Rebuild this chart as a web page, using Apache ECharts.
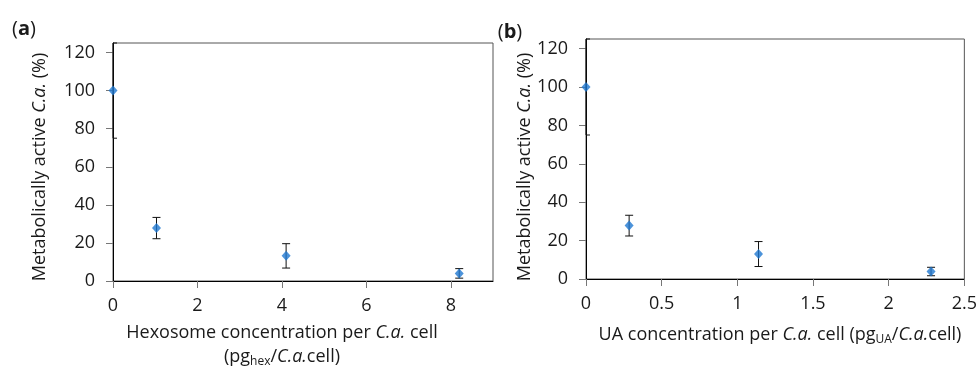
<!DOCTYPE html>
<html>
<head>
<meta charset="utf-8">
<script src="https://cdn.jsdelivr.net/npm/echarts@6/dist/echarts.min.js"></script>
<style>
  html, body { margin: 0; padding: 0; background: #fff; }
  #chart { width: 980px; height: 369px; }
</style>
</head>
<body>
<div id="chart"></div>
<script>
// panel (a): hexosome dose
const hexConc = [0, 1.03, 4.1, 8.2]
const hexActive = [100, 27.8, 13.2, 4.0]
const hexErr = [25, 5.6, 6.4, 2.5]

// panel (b): UA dose
const uaConc = [0, 0.285, 1.14, 2.28]
const uaActive = [100, 27.8, 13.0, 3.9]
const uaErr = [25, 5.4, 6.5, 2.2]

const yTicks = [0, 20, 40, 60, 80, 100, 120]
const xTicksA = [0, 2, 4, 6, 8]
const xTicksB = [0, 0.5, 1, 1.5, 2, 2.5]

const FONT = '"Open Sans", sans-serif'
const BLUE = '#1f78d1'
const INK = '#1a1a1a'

const chart = echarts.init(document.getElementById('chart'))

const axisBase = {
  type: 'value',
  splitLine: { show: false },
  axisLine: { show: true, lineStyle: { color: '#000', width: 1 } },
  axisTick: { show: true, length: 7, lineStyle: { color: '#777' } },
  axisLabel: { color: INK, fontSize: 18, fontFamily: FONT },
}

function xAxis(idx, max, ticks) {
  return {
    ...axisBase,
    gridIndex: idx,
    min: 0,
    max: max,
    axisTick: { ...axisBase.axisTick, customValues: ticks },
    axisLabel: { ...axisBase.axisLabel, margin: 16, customValues: ticks },
  }
}

function yAxis(idx) {
  return {
    ...axisBase,
    gridIndex: idx,
    min: 0,
    max: 125,
    axisTick: { ...axisBase.axisTick, customValues: yTicks },
    axisLabel: { ...axisBase.axisLabel, margin: 18, customValues: yTicks },
  }
}

const zip = (xs, ys) => xs.map((x, i) => [x, ys[i]])
const zipErr = (xs, ys, es) => xs.map((x, i) => [x, ys[i], es[i]])

function errorBars(idx, data) {
  return {
    type: 'custom',
    xAxisIndex: idx,
    yAxisIndex: idx,
    z: 1,
    silent: true,
    data: data,
    renderItem: (params, api) => {
      const x = api.value(0)
      const y = api.value(1)
      const e = api.value(2)
      const hi = api.coord([x, y + e])
      const lo = api.coord([x, y - e])
      const cs = params.coordSys
      const w = 4
      const left = Math.max(hi[0] - w, cs.x)
      const right = Math.min(hi[0] + w, cs.x + cs.width)
      const style = { stroke: '#111', lineWidth: 1 }
      return {
        type: 'group',
        children: [
          { type: 'line', shape: { x1: hi[0], y1: hi[1], x2: lo[0], y2: lo[1] }, style },
          { type: 'line', shape: { x1: left, y1: hi[1], x2: right, y2: hi[1] }, style },
          { type: 'line', shape: { x1: left, y1: lo[1], x2: right, y2: lo[1] }, style },
        ],
      }
    },
  }
}

function points(idx, data) {
  return {
    type: 'scatter',
    xAxisIndex: idx,
    yAxisIndex: idx,
    symbol: 'diamond',
    symbolSize: [9, 10],
    itemStyle: { color: BLUE },
    z: 3,
    data: data,
  }
}

const txt = { fontSize: 18, fontFamily: FONT, fill: INK, lineHeight: 24 }
const ital = { ...txt, fontStyle: 'italic' }
const subStyle = { fontSize: 12, fontFamily: FONT, fill: INK, padding: [10, 0, 0, 0], lineHeight: 24 }

function label(x, y, text, extra) {
  return {
    type: 'text',
    x: x,
    y: y,
    style: {
      text: text,
      fontSize: 18,
      fontFamily: FONT,
      fill: INK,
      align: 'center',
      verticalAlign: 'middle',
      rich: {
        t: txt, i: ital, s: subStyle,
        b: { ...txt, fontSize: 20, fontWeight: 'bold' },
        p: { ...txt, fontSize: 20 },
      },
    },
    ...extra,
  }
}

const yName = '{t|Metabolically active }{i|C.a.}{t| (%)}'

const option = {
  backgroundColor: '#fff',
  animation: false,
  grid: [
    { left: 113, right: 487, top: 43, bottom: 88, show: true, borderColor: '#555', borderWidth: 1 },
    { left: 586, right: 13, top: 39, bottom: 90, show: true, borderColor: '#555', borderWidth: 1 },
  ],
  xAxis: [xAxis(0, 9, xTicksA), xAxis(1, 2.5, xTicksB)],
  yAxis: [yAxis(0), yAxis(1)],
  series: [
    errorBars(0, zipErr(hexConc, hexActive, hexErr)),
    points(0, zip(hexConc, hexActive)),
    errorBars(1, zipErr(uaConc, uaActive, uaErr)),
    points(1, zip(uaConc, uaActive)),
  ],
  graphic: [
    label(24, 29, '{p|(}{b|a}{p|)}'),
    label(510, 32, '{p|(}{b|b}{p|)}'),
    label(40, 167, yName, { rotation: Math.PI / 2 }),
    label(525, 167, yName, { rotation: Math.PI / 2 }),
    label(282, 333, '{t|Hexosome concentration per }{i|C.a.}{t| cell}'),
    label(282, 357, '{t|(pg}{s|hex}{t|/}{i|C.a.}{t|cell)}'),
    label(780, 335, '{t|UA concentration per }{i|C.a.}{t| cell (pg}{s|UA}{t|/}{i|C.a.}{t|cell)}'),
  ],
}

chart.setOption(option)
</script>
</body>
</html>
